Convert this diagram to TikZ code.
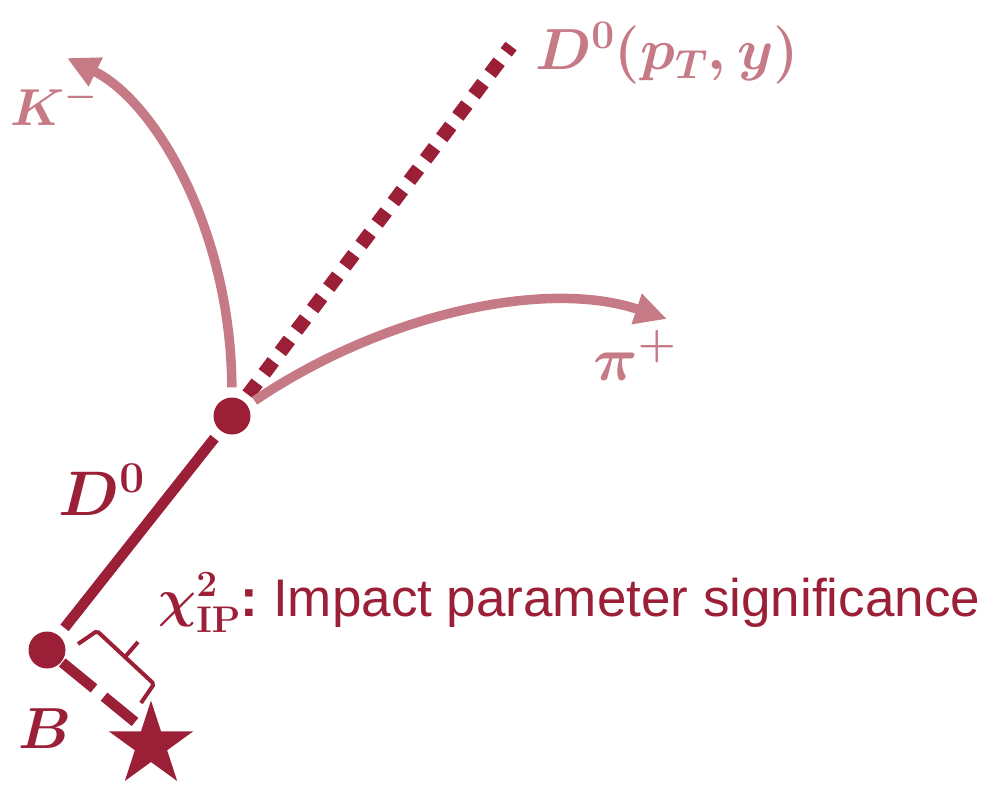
\RequirePackage{fix-cm}
\documentclass[tikz,border=0pt]{standalone}
\usepackage{fontspec}
\newfontfamily\arialf{Liberation Sans}
\usetikzlibrary{arrows.meta,shapes.geometric}
\definecolor{dred}{RGB}{155,31,54}
\definecolor{pinkc}{RGB}{198,122,134}
\newcommand\fsz[1]{\fontsize{#1}{#1}\selectfont\boldmath}
\tikzset{
 vtx/.style={circle,fill=dred,inner sep=0pt,minimum size=37pt},
 trk/.style={draw=dred,line width=10.5pt},
 dau/.style={draw=pinkc,line width=9.5pt,-{Triangle[length=32pt,width=30pt]}},
 lab/.style={inner sep=0pt,anchor=base west},
 brk/.style={draw=dred,line width=4pt},
}
\begin{document}
\begin{tikzpicture}[x=1pt,y=-1pt]
\useasboundingbox (0,0) rectangle (987,784);
\node[vtx] (Dv) at (232,416) {};
\node[vtx] (Bv) at (47,650) {};
\node[star,star points=5,star point ratio=2.618,fill=dred,inner sep=0pt,minimum size=89pt] (pv) at (151,745) {};
\coordinate (Ktip) at (67,58);
\coordinate (Ptip) at (667,319);
\coordinate (Dend) at (511,46);
\coordinate (Bend) at (135,722);
\draw[trk,shorten <=9.5pt,shorten >=9.5pt] (Bv) -- (Dv);
\draw[dred,line width=10.5pt,dash pattern=on 41pt off 13pt,shorten <=1pt] (Bv) -- (Bend);
\draw[dred,line width=14pt,dash pattern=on 15pt off 11.8pt,shorten <=8pt] (Dv) -- (Dend);
\draw[dau,shorten <=10pt] (Dv) .. controls (231,230) and (155,101) .. (Ktip);
\draw[dau,shorten <=8.5pt] (Dv) .. controls (381,315) and (544,278) .. (Ptip);
\coordinate (b1) at (78,644);
\coordinate (b2) at (97,631);
\coordinate (bm) at (125,657);
\coordinate (bt) at (138,642);
\coordinate (b3) at (154,684);
\coordinate (b4) at (141,703);
\draw[brk,rounded corners=2pt] (b1) -- (b2) -- (bm) -- (b3) -- (b4);
\draw[brk] (bm) -- (bt);
\node[lab,text=pinkc,font=\fsz{52}] (Kl) at (10,125) {$K^{-}$};
\node[lab,text=pinkc,font=\fsz{58}] (Dl) at (535,70) {$D^{0}(p_{T},y)$};
\node[lab,text=pinkc,font=\fsz{62}] (Pl) at (593,380) {$\pi^{+}$};
\node[lab,text=dred,font=\fsz{63}] (D0l) at (58,515) {$D^{0}$};
\node[lab,text=dred,font=\fsz{58}] (Bl) at (18,748) {$B$};
\node[lab,text=dred,font=\fsz{53}] (IPl) at (158,616) {$\chi^{\mathbf{2}}_{\mathbf{IP}}${\arialf\bfseries:}{\arialf\ Impact parameter significance}};
\end{tikzpicture}
\end{document}
